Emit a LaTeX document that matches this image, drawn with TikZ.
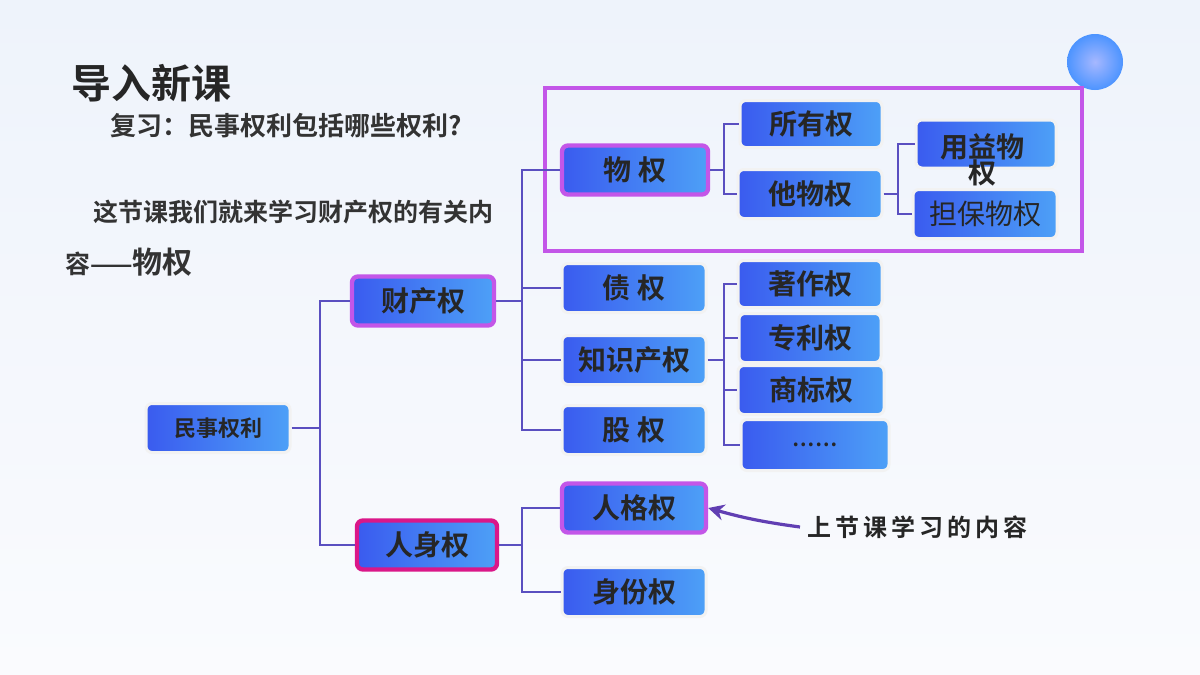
\documentclass[tikz,border=0pt]{standalone}
\usepackage{fontspec}
\setmainfont{Noto Sans CJK SC}[BoldFont={Noto Sans CJK SC Bold}]
\usetikzlibrary{arrows.meta}
\definecolor{bl}{HTML}{3A5BEF}
\definecolor{br}{HTML}{4DA0F7}
\definecolor{mag}{HTML}{C356E8}
\definecolor{ln}{HTML}{5A4FC0}
\definecolor{bgt}{HTML}{EEF3FB}
\definecolor{bgb}{HTML}{FAFBFE}
\begin{document}
\begin{tikzpicture}[x=0.5pt,y=-0.5pt,
  box/.style={draw=white!90!gray,line width=1.5pt,rounded corners=3pt,left color=bl,right color=br,
    minimum height=24.5pt,inner sep=0pt,font=\bfseries\fontsize{14}{15}\selectfont,text=black!85},
  hl/.style={draw=mag,line width=2.2pt},
  con/.style={draw=ln,line width=0.7pt},
  tx/.style={anchor=west,font=\bfseries\fontsize{12.5}{14}\selectfont,text=black!80}]
\useasboundingbox (0,0) rectangle (1200,675);
\shade[top color=bgt,bottom color=bgb] (0,0) rectangle (1200,675);
\shade[inner color=cyan!20!blue!35,outer color=blue!60!cyan!70] (1095,62) circle (28);
% titles
\node[anchor=west,font=\bfseries\fontsize{20}{22}\selectfont,text=black!85] (t) at (64,83) {导入新课};
\node[tx,font=\bfseries\fontsize{13}{14}\selectfont] (t2) at (103,126) {复习：民事权利包括哪些权利?};
\node[tx] (t3) at (86,212) {这节课我们就来学习财产权的有关内};
\node[tx] (t4) at (58,262) {容——{\fontsize{15}{16}\selectfont 物权}};
% frame
\node[draw=mag,line width=2pt,minimum width=268.5pt,minimum height=81.5pt,inner sep=0pt] (fr) at (813.5,169.5) {};
% nodes
\node[box,minimum width=72pt,font=\bfseries\fontsize{11}{12}\selectfont] (ms) at (218,428) {民事权利};
\node[box,hl,minimum width=71pt] (cc) at (423,301) {财产权};
\node[box,hl,minimum width=70pt,draw=magenta!80!violet] (rs) at (427,545) {人身权};
\node[box,hl,minimum width=73pt] (wq) at (635,170) {物 权};
\node[box,minimum width=72pt] (zq) at (634,288) {债 权};
\node[box,minimum width=72pt] (zs) at (634,360) {知识产权};
\node[box,minimum width=72pt] (gq) at (634,430) {股 权};
\node[box,hl,minimum width=72pt] (rg) at (634,508) {人格权};
\node[box,minimum width=72pt] (sf) at (634,592) {身份权};
\node[box,minimum width=71pt,minimum height=23.5pt] (sy) at (811,124) {所有权};
\node[box,minimum width=72pt] (tw) at (810,194) {他物权};
\node[box,minimum width=70pt,minimum height=24pt] (yy) at (986,144) {};
\node[font=\bfseries\fontsize{14}{14}\selectfont,text=black!85,align=center] (yyt) at (982,160) {用益物\\[-1pt]权};
\node[box,minimum width=72pt,font=\fontsize{14}{15}\selectfont] (db) at (985,214) {担保物权};
\node[box,minimum width=72pt,minimum height=23.5pt] (zz) at (810,284) {著作权};
\node[box,minimum width=71pt] (zl) at (810,338) {专利权};
\node[box,minimum width=73pt] (sb) at (811,390) {商标权};
\node[box,minimum width=74pt,minimum height=25.5pt,font=\bfseries\fontsize{10}{12}\selectfont] (dd) at (815,445) {……};
% connectors
\draw[con] (ms.east) -- (320,428) coordinate (m1);
\draw[con] (cc.west) -| (m1) |- (rs.west);
\draw[con] (cc.east) -- (522,301) coordinate (c1);
\draw[con] (wq.west) -| (c1) |- (gq.west);
\draw[con] (zq.west) -| (c1);
\draw[con] (zs.west) -| (c1);
\draw[con] (rs.east) -- (522,545) coordinate (r1);
\draw[con] (rg.west) -| (r1) |- (sf.west);
\draw[con] (wq.east) -- (724,170) coordinate (w1);
\draw[con] (sy.west) -| (w1) |- (tw.west);
\draw[con] (tw.east) -- (898,194) coordinate (w2);
\draw[con] (yy.west) -| (w2) |- (db.west);
\draw[con] (zs.east) -- (724,360) coordinate (z1);
\draw[con] (zz.west) -| (z1) |- (dd.west);
\draw[con] (zl.west) -| (z1);
\draw[con] (sb.west) -| (z1);
% annotation
\node[anchor=west,font=\bfseries\fontsize{12}{13}\selectfont,text=black!85] (an) at (800,527) {上\,节\,课\,学\,习\,的\,内\,容};
\draw[ln!80!violet,line width=1.6pt,-{Stealth[length=8pt,width=8pt]}] (an.west) to[bend left=4] (rg.east);
\end{tikzpicture}
\end{document}
